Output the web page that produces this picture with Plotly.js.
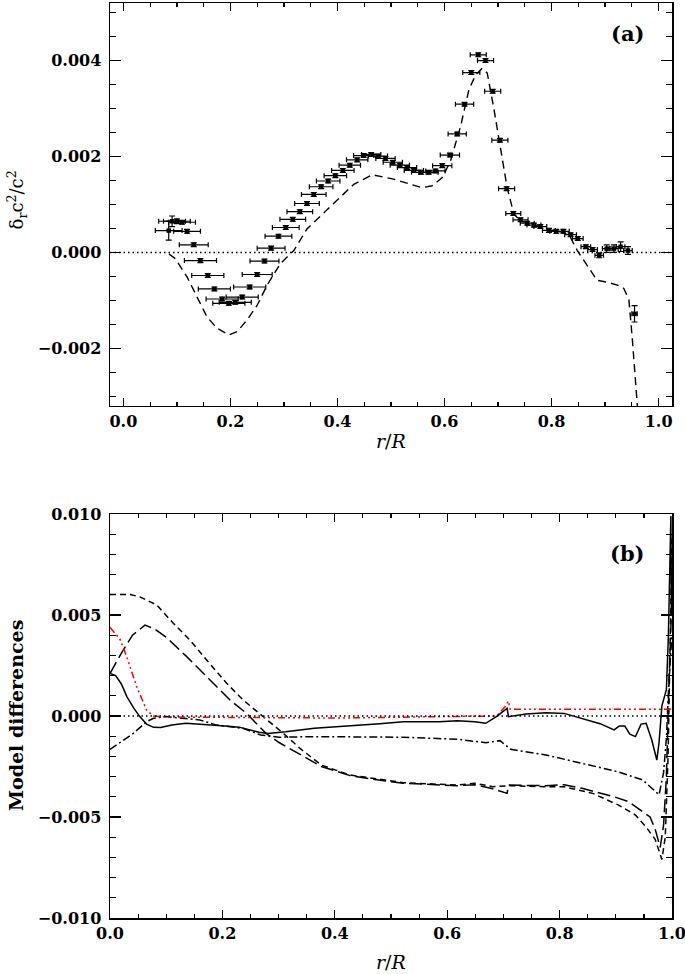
<!DOCTYPE html>
<html>
<head>
<meta charset="utf-8">
<script src="https://cdn.plot.ly/plotly-3.0.1.min.js"></script>
<style>html,body{margin:0;padding:0;background:#fff;}#plot{width:685px;height:974px;}</style>
</head>
<body>
<div id="plot"></div>
<script>
// ---------- Panel (a): inverted sound-speed difference ----------
const r_obs = [0.0847,0.091,0.100,0.1097,0.119,0.1315,0.144,0.1577,0.170,0.1845,0.197,0.209,0.222,0.236,0.250,0.2636,0.276,0.2897,0.3034,0.3165,0.3296,0.343,0.3557,0.3695,0.3826,0.396,0.41,0.423,0.4368,0.449,0.463,0.4755,0.4897,0.5034,0.5165,0.530,0.5427,0.5564,0.570,0.583,0.5957,0.610,0.6237,0.6374,0.650,0.663,0.6766,0.690,0.7034,0.716,0.7285,0.742,0.7545,0.767,0.779,0.795,0.8087,0.822,0.8355,0.849,0.864,0.8766,0.889,0.903,0.9165,0.929,0.9427,0.955];
const dc2_obs = [0.000456,0.00065,0.00065,0.00063,0.00044,0.00016,-0.00017,-0.00048,-0.00076,-0.00097,-0.00106,-0.00104,-0.00093,-0.00072,-0.00046,-0.00018,0.00009,0.00034,0.00052,0.00069,0.00085,0.00102,0.00121,0.00137,0.00149,0.0016,0.00171,0.00182,0.00193,0.00202,0.00204,0.00201,0.00196,0.00188,0.00182,0.00177,0.00171,0.00167,0.00167,0.0017,0.00181,0.00203,0.00247,0.00309,0.00375,0.00412,0.0040,0.00336,0.00234,0.00133,0.00081,0.00068,0.00061,0.00057,0.00054,0.00046,0.00044,0.00044,0.00037,0.00029,0.00012,0.00006,-0.00006,0.00008,0.00008,0.00012,0.00004,-0.00128];
const r_err = [0.025,0.025,0.025,0.025,0.025,0.027,0.03,0.03,0.03,0.03,0.03,0.03,0.03,0.03,0.028,0.027,0.026,0.025,0.025,0.024,0.024,0.023,0.023,0.022,0.022,0.021,0.021,0.02,0.02,0.019,0.018,0.018,0.018,0.018,0.018,0.018,0.018,0.018,0.018,0.018,0.018,0.018,0.017,0.017,0.016,0.015,0.015,0.015,0.015,0.015,0.014,0.014,0.013,0.013,0.012,0.012,0.012,0.011,0.011,0.01,0.009,0.009,0.008,0.008,0.008,0.008,0.008,0.005];
const dc2_err = [0.0002,0.00011,0.00005,0.00004,0.00004,0.00004,0.00004,0.00004,0.00004,0.00004,0.00004,0.00004,0.00004,0.00004,0.00004,0.00004,0.00004,0.00004,0.00004,0.00004,0.00004,0.00004,0.00004,0.00004,0.00004,0.00004,0.00004,0.00004,0.00004,0.00004,0.00004,0.00004,0.00004,0.00004,0.00004,0.00004,0.00004,0.00004,0.00004,0.00004,0.00004,0.00004,0.00004,0.00004,0.00004,0.00004,0.00004,0.00004,0.00004,0.00004,0.00004,0.00004,0.00004,0.00004,0.00004,0.00004,0.00004,0.00004,0.00004,0.00004,0.00004,0.00004,0.00005,0.00008,0.00008,0.0001,0.00008,0.00017];
const r_model = [0.085,0.097,0.119,0.138,0.156,0.175,0.197,0.2125,0.231,0.25,0.2686,0.2935,0.3184,0.343,0.37,0.399,0.4305,0.465,0.505,0.5365,0.558,0.577,0.5957,0.611,0.630,0.6455,0.658,0.6705,0.6798,0.692,0.7047,0.717,0.7296,0.742,0.767,0.795,0.822,0.835,0.848,0.8667,0.885,0.904,0.923,0.935,0.9445,0.951,0.957,0.961];
const dc2_model = [-0.00003,-0.00013,-0.00051,-0.00093,-0.00134,-0.00158,-0.00172,-0.00165,-0.00141,-0.0011,-0.00068,-0.00023,0.00004,0.00049,0.00078,0.00108,0.00142,0.00162,0.00153,0.00142,0.00135,0.00139,0.00156,0.0019,0.00263,0.00339,0.0037,0.00384,0.00374,0.00301,0.00218,0.00135,0.0008,0.00066,0.00057,0.00047,0.00042,0.00032,0.00004,-0.00027,-0.00058,-0.00062,-0.00068,-0.00075,-0.00099,-0.00182,-0.00265,-0.0033];

// ---------- Panel (b): model differences ----------
const r_solid = [0,0.01,0.02,0.03,0.042,0.053,0.065,0.0775,0.09,0.11,0.135,0.16,0.2046,0.23,0.249,0.265,0.281,0.3126,0.3635,0.427,0.48,0.522,0.586,0.6177,0.649,0.6686,0.6875,0.7066,0.709,0.74,0.776,0.808,0.84,0.872,0.897,0.906,0.916,0.925,0.935,0.945,0.954,0.964,0.973,0.977,0.982,0.99,0.9935,0.9964,0.998,0.999,1.0];
const d_solid = [0.00211,0.0020,0.0016,0.00096,0.0004,-0.00003,-0.0004,-0.00056,-0.00057,-0.00045,-0.00036,-0.0004,-0.0005,-0.00055,-0.00069,-0.0008,-0.00086,-0.00078,-0.00061,-0.0005,-0.00038,-0.00028,-0.00028,-0.00023,-0.00028,-0.00036,-0.00003,0.00038,-0.00003,0.0001,0.00016,0.00013,-0.00011,-0.00038,-0.00069,-0.0005,-0.0005,-0.0009,-0.00102,-0.0004,-0.00036,-0.00119,-0.00218,-0.0013,0.0005,0.0013,0.0039,0.008,0.0099,0.005,0.0052];
const r_dash = [0,0.0356,0.053,0.0831,0.1127,0.1423,0.172,0.2076,0.237,0.273,0.3085,0.338,0.376,0.427,0.465,0.522,0.618,0.649,0.681,0.71,0.776,0.808,0.859,0.904,0.935,0.954,0.97,0.982,0.988,0.993,0.997,1.0];
const d_dash = [0.00602,0.00602,0.0059,0.0055,0.00459,0.00376,0.00277,0.00162,0.00079,-0.00003,-0.00086,-0.0016,-0.00243,-0.00292,-0.00308,-0.0033,-0.00342,-0.00333,-0.0035,-0.00345,-0.0035,-0.0035,-0.00383,-0.0044,-0.0049,-0.0055,-0.0061,-0.0071,-0.006,-0.002,0.004,0.009];
const r_longdash = [0,0.02,0.04,0.0623,0.08,0.1,0.1365,0.172,0.2135,0.243,0.2776,0.30,0.338,0.376,0.427,0.465,0.522,0.618,0.649,0.681,0.7066,0.709,0.776,0.808,0.84,0.897,0.923,0.961,0.97,0.979,0.985,0.99,0.995,1.0];
const d_longdash = [0.0021,0.0031,0.0040,0.0045,0.0043,0.0039,0.00294,0.00195,0.00079,0.00013,-0.00086,-0.0013,-0.0019,-0.0025,-0.00295,-0.00312,-0.00333,-0.00345,-0.0034,-0.0036,-0.00383,-0.00342,-0.00345,-0.0034,-0.00358,-0.0040,-0.00424,-0.005,-0.0056,-0.0065,-0.0054,-0.003,0.002,0.006];
const r_dashdot = [0,0.0415,0.065,0.0776,0.1,0.13,0.16,0.19,0.2365,0.268,0.30,0.3635,0.522,0.6177,0.6686,0.694,0.713,0.776,0.84,0.904,0.948,0.967,0.977,0.985,0.99,0.995,1.0];
const d_dashdot = [-0.00165,-0.00086,-0.00028,-0.00011,-0.00003,-0.00012,-0.0002,-0.00045,-0.00061,-0.00094,-0.00105,-0.00102,-0.00105,-0.00115,-0.00132,-0.00122,-0.00165,-0.00193,-0.00234,-0.00276,-0.00317,-0.00366,-0.0039,-0.0028,-0.0011,0.002,0.004];
const r_red = [0,0.0178,0.0297,0.0475,0.065,0.077,0.1,0.22,0.338,0.409,0.587,0.688,0.703,0.709,0.712,1.0];
const d_red = [0.00439,0.0038,0.00294,0.00145,0.0003,0.0,-0.00005,-0.00008,-0.0001,-0.0001,-0.00003,0.0,0.00046,0.00074,0.00033,0.00033];

// tick labels
const xTicks = [0,0.2,0.4,0.6,0.8,1.0];
const yTicksA = [-0.002,0,0.002,0.004];
const yTicksB = [-0.01,-0.005,0,0.005,0.01];

const FONT = 'DejaVu Serif';
const blk = '#000';

const traces = [
  {x:r_model, y:dc2_model, xaxis:'x', yaxis:'y', mode:'lines', line:{color:blk, width:1.4, dash:'8px,5px'}, hoverinfo:'skip'},
  {x:r_obs, y:dc2_obs, xaxis:'x', yaxis:'y', mode:'markers', marker:{symbol:'square', size:4.5, color:blk},
   error_x:{type:'data', array:r_err, visible:true, color:blk, thickness:1.2, width:2.5},
   error_y:{type:'data', array:dc2_err, visible:true, color:blk, thickness:1.2, width:3}},
  {x:r_dash, y:d_dash, xaxis:'x2', yaxis:'y2', mode:'lines', line:{color:blk, width:1.5, dash:'6px,4px'}},
  {x:r_longdash, y:d_longdash, xaxis:'x2', yaxis:'y2', mode:'lines', line:{color:blk, width:1.5, dash:'13px,5px'}},
  {x:r_dashdot, y:d_dashdot, xaxis:'x2', yaxis:'y2', mode:'lines', line:{color:blk, width:1.5, dash:'8px,3px,2px,3px'}},
  {x:r_red, y:d_red, xaxis:'x2', yaxis:'y2', mode:'lines', line:{color:'#ff0000', width:1.5, dash:'7px,3px,2px,3px,2px,3px,2px,3px'}},
  {x:r_solid, y:d_solid, xaxis:'x2', yaxis:'y2', mode:'lines', line:{color:blk, width:1.5}}
];

const tickFont = {family:FONT, size:16, color:blk, weight:'bold'};
function xax(range, anchor) {
  return {range:range, anchor:anchor, tickvals:xTicks, tickformat:'.1f', ticks:'inside', ticklen:8, tickwidth:1.2, tickcolor:blk,
    minor:{dtick:0.05, ticks:'inside', ticklen:4, tickwidth:1.2, tickcolor:blk},
    showline:true, linecolor:blk, linewidth:1.5, mirror:'allticks', showgrid:false, zeroline:false,
    tickfont:tickFont, ticklabeloverflow:'allow'};
}
function yax(range, domain, tv, mdt, anchor) {
  return {range:range, domain:domain, anchor:anchor, tickvals:tv, tickformat:'.3f', ticks:'inside', ticklen:11, tickwidth:1.2, tickcolor:blk,
    minor:{dtick:mdt, ticks:'inside', ticklen:6, tickwidth:1.2, tickcolor:blk},
    showline:true, linecolor:blk, linewidth:1.5, mirror:'allticks', showgrid:false, zeroline:false,
    tickfont:tickFont, ticklabelstandoff:4, ticklabeloverflow:'allow'};
}

const layout = {
  width:685, height:974, showlegend:false, paper_bgcolor:'#fff', plot_bgcolor:'#fff',
  margin:{l:110, r:13, t:3, b:56},
  xaxis: xax([-0.025,1.025],'y'),
  yaxis: yax([-0.0032,0.0052],[0.5596,1],yTicksA,0.0005,'x'),
  xaxis2: xax([0,1.000001],'y2'),
  yaxis2: yax([-0.0100001,0.0100001],[0,0.4415],yTicksB,0.001,'x2'),
  shapes:[
    {type:'line', xref:'x domain', yref:'y', x0:0, x1:1, y0:0, y1:0, line:{color:blk, width:1.4, dash:'1.5px,3px'}},
    {type:'line', xref:'x2 domain', yref:'y2', x0:0, x1:1, y0:0, y1:0, line:{color:blk, width:1.4, dash:'1.5px,3px'}}
  ],
  annotations:[
    {text:'<b>(a)</b>', xref:'x domain', yref:'y domain', x:0.92, y:0.925, xanchor:'center', yanchor:'middle', showarrow:false, font:{family:FONT, size:21, color:blk}},
    {text:'<b>(b)</b>', xref:'x2 domain', yref:'y2 domain', x:0.92, y:0.9035, xanchor:'center', yanchor:'middle', showarrow:false, font:{family:FONT, size:21, color:blk}},
    {text:'δ<sub>r</sub>c<sup>2</sup>/c<sup>2</sup>', xref:'paper', yref:'y domain', x:0, y:0.51, xshift:-93, xanchor:'center', yanchor:'middle', textangle:-90, showarrow:false, font:{family:FONT, size:18, color:blk}},
    {text:'<b>Model differences</b>', xref:'paper', yref:'y2 domain', x:0, y:0.5, xshift:-94, xanchor:'center', yanchor:'middle', textangle:-90, showarrow:false, font:{family:FONT, size:19, color:blk}},
    {text:'<i>r</i>/<i>R</i>', xref:'x domain', yref:'y domain', x:0.5, y:0, yshift:-35, xanchor:'center', yanchor:'middle', showarrow:false, font:{family:FONT, size:19, color:blk}},
    {text:'<i>r</i>/<i>R</i>', xref:'x2 domain', yref:'y2 domain', x:0.5, y:0, yshift:-44, xanchor:'center', yanchor:'middle', showarrow:false, font:{family:FONT, size:19, color:blk}}
  ]
};

Plotly.newPlot('plot', traces, layout, {staticPlot:true, displayModeBar:false});
</script>
</body>
</html>
